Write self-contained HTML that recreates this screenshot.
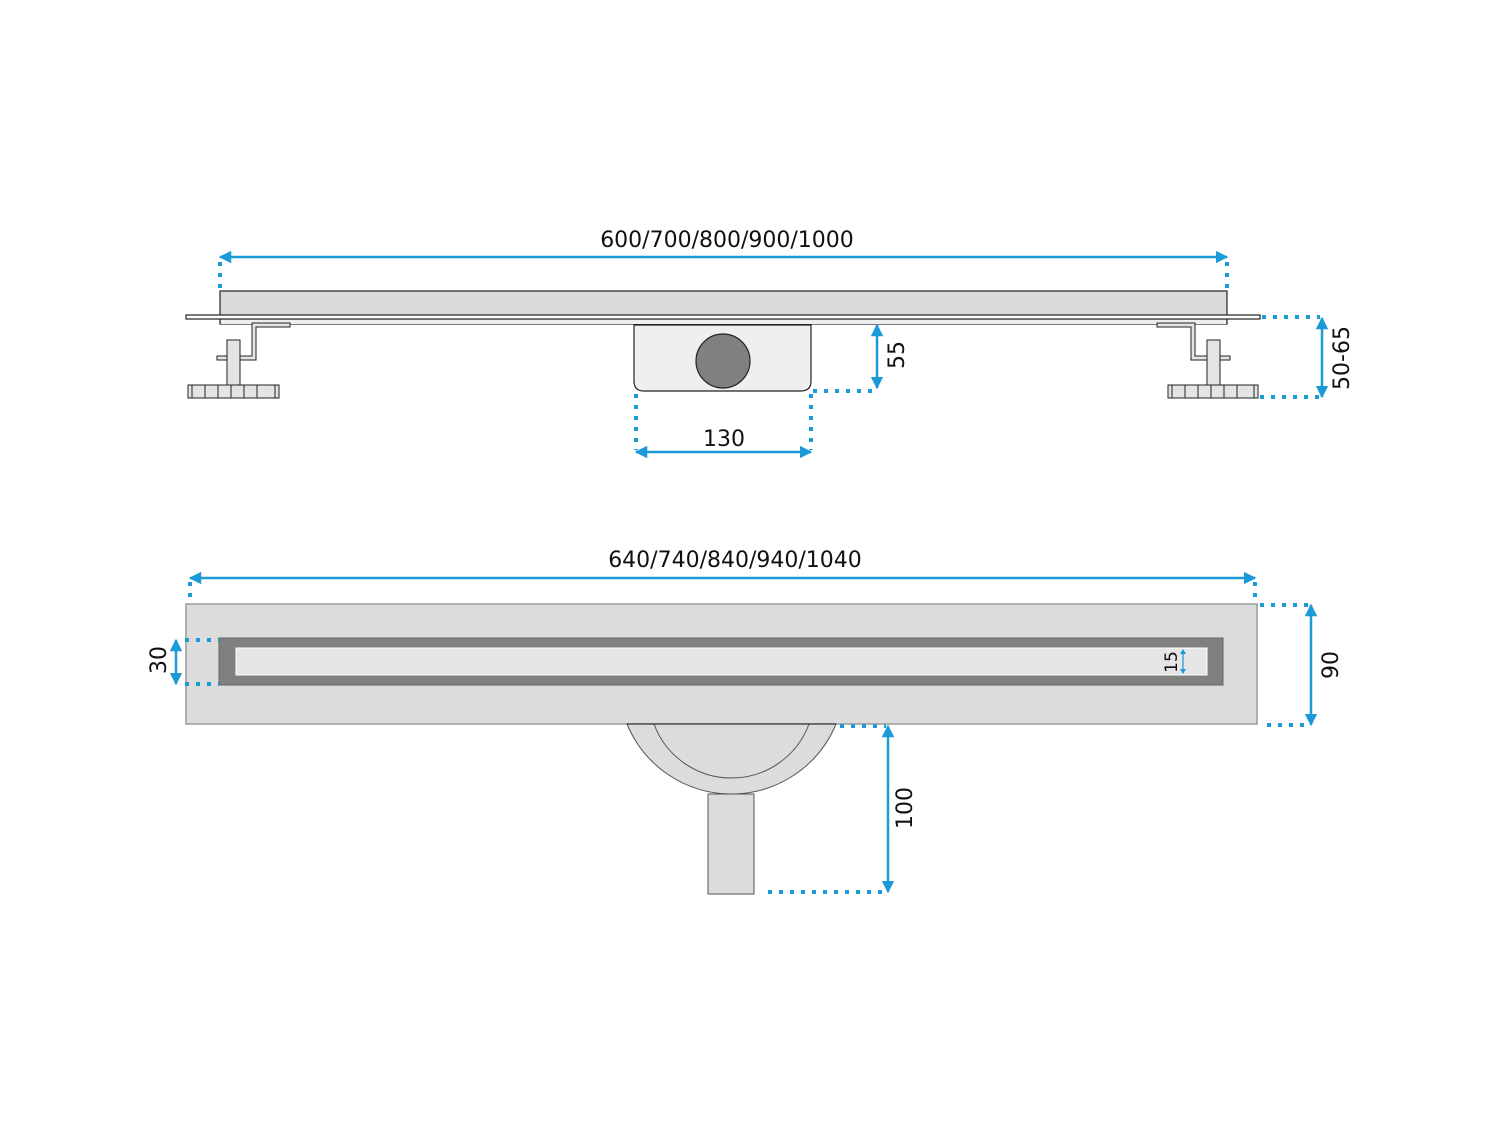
<!DOCTYPE html>
<html><head><style>html,body{margin:0;padding:0;background:#fff}</style></head><body>
<svg width="1500" height="1125" viewBox="0 0 1500 1125" xmlns="http://www.w3.org/2000/svg" font-family="'DejaVu Sans', 'Liberation Sans', sans-serif">
<defs>
<marker id="a" viewBox="0 0 10 10" refX="9" refY="5" markerWidth="5" markerHeight="5" orient="auto-start-reverse"><path d="M0,0 L10,5 L0,10 z" fill="#1a9ad6"/></marker>
</defs>
<!-- top view -->
<rect x="220" y="291" width="1007" height="33" fill="#dadada" stroke="#222" stroke-width="1.2"/>
<rect x="186" y="315" width="1074" height="4" fill="#fff" stroke="#222" stroke-width="1.2"/>
<rect x="221" y="320" width="1005" height="4" fill="#eee"/>
<g fill="#e4e4e4" stroke="#222" stroke-width="1">
<path d="M252 323H290V327H256V360H217V356H252Z"/>
<rect x="227" y="340" width="13" height="45"/>
<rect x="188" y="385" width="91" height="13"/>
<path d="M1195 323H1157V327H1191V360H1230V356H1195Z"/>
<rect x="1207" y="340" width="13" height="45"/>
<rect x="1168" y="385" width="90" height="13"/>
</g>
<g stroke="#222" stroke-width="1">
<path d="M192 385V398M275 385V398M205 385V398M218 385V398M231 385V398M244 385V398M257 385V398"/>
<path d="M1172 385V398M1254 385V398M1185 385V398M1198 385V398M1211 385V398M1224 385V398M1237 385V398"/>
</g>
<path d="M634 325H811V381Q811 391 801 391H644Q634 391 634 381Z" fill="#efefef" stroke="#222" stroke-width="1.2"/>
<circle cx="723" cy="361" r="27" fill="#808080" stroke="#222" stroke-width="1.2"/>
<!-- bottom view -->
<rect x="186" y="604" width="1071" height="120" fill="#dcdcdc" stroke="#999" stroke-width="1.5"/>
<rect x="219" y="638" width="1004" height="47" fill="#808080" stroke="#666"/>
<rect x="236" y="648" width="971" height="27" fill="#e6e6e6" stroke="#fff"/>
<path d="M627 724 A113 113 0 0 0 836 724Z" fill="#dcdcdc" stroke="#555"/>
<path d="M654 724 A82.6 82.6 0 0 0 809 724" fill="#dcdcdc" stroke="#555"/>
<path d="M627 724H836" stroke="#333" stroke-width="1.2"/>
<rect x="708" y="794" width="46" height="100" fill="#dcdcdc" stroke="#555"/>
<g stroke="#1a9ad6" stroke-width="4" stroke-dasharray="4,7" fill="none">
<path d="M220 262V290M1227 262V290"/>
<path d="M813 391H877"/>
<path d="M636 394V450M811 394V450"/>
<path d="M1262 317H1320M1260 397H1320"/>
<path d="M190 582V600M1255 582V600"/>
<path d="M185 640H219M185 684H219"/>
<path d="M1260 605H1310M1267 725H1310"/>
<path d="M840 726H886M768 892H886"/>
</g>
<g stroke="#1a9ad6" stroke-width="2.5" fill="none" marker-start="url(#a)" marker-end="url(#a)">
<path d="M220 257H1227"/>
<path d="M877 325V388"/>
<path d="M636 452H811"/>
<path d="M1322 318V397"/>
<path d="M190 578H1255"/>
<path d="M176 640V684"/>
<path d="M1311 605V725"/>
<path d="M888 726V892"/>
</g>
<path d="M1183 652V671" stroke="#1a9ad6" stroke-width="1.2"/>
<path d="M1180 654L1183 649L1186 654ZM1180 669L1183 674L1186 669Z" fill="#1a9ad6"/>
<g font-size="22" fill="#111" text-anchor="middle">
<text x="727" y="247">600/700/800/900/1000</text>
<text x="724" y="446">130</text>
<text x="735" y="567">640/740/840/940/1040</text>
<text transform="translate(904,355) rotate(-90)">55</text>
<text transform="translate(1349,358) rotate(-90)">50-65</text>
<text transform="translate(166,660) rotate(-90)">30</text>
<text transform="translate(1338,665) rotate(-90)">90</text>
<text transform="translate(912,808) rotate(-90)">100</text>
<text transform="translate(1177,662) rotate(-90)" font-size="17">15</text>
</g>
</svg>
</body></html>
